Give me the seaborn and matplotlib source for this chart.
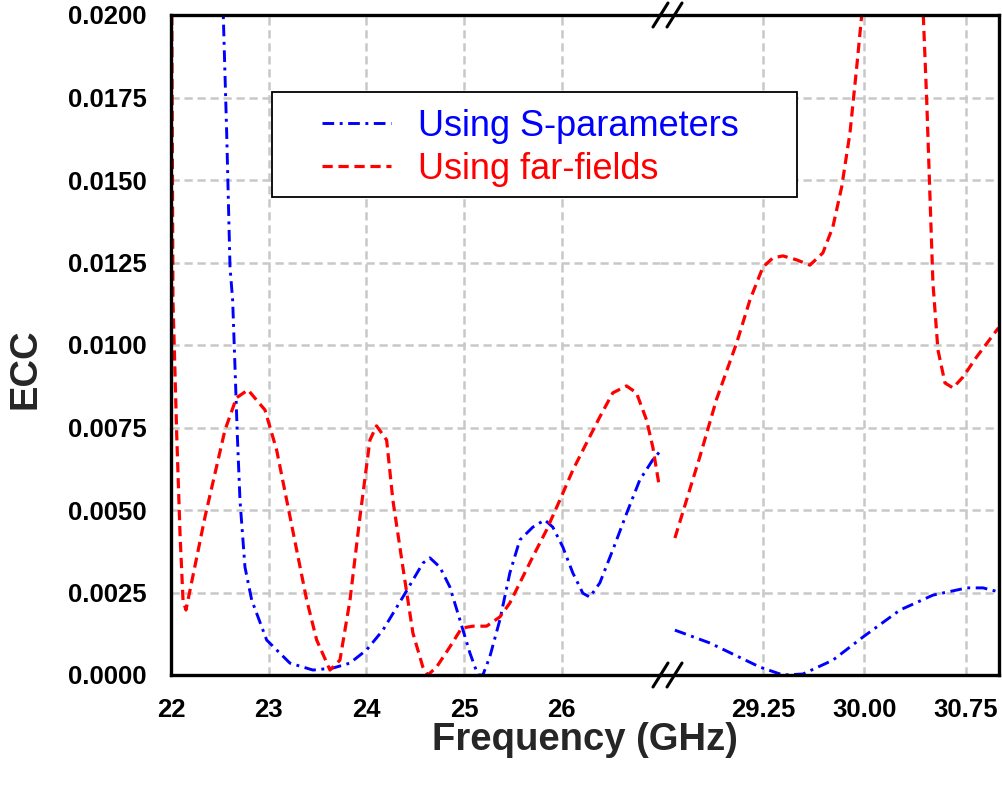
import numpy as np
import pandas as pd
import matplotlib
matplotlib.use("Agg")
import matplotlib.pyplot as plt
from matplotlib.lines import Line2D
from matplotlib.patches import Rectangle
import seaborn as sns

sns.set_style("white")
plt.rcParams['font.family'] = ['Liberation Sans', 'DejaVu Sans']

# ---------------- data ----------------
# Using S-parameters, lower band (GHz)
s_low_freq = [22.52, 22.535, 22.57, 22.604, 22.631, 22.655, 22.678, 22.706, 22.757, 22.826,
              22.979, 23.217, 23.453, 23.657, 23.831, 24.002, 24.169, 24.373, 24.578, 24.65,
              24.752, 24.854, 24.957, 25.059, 25.141, 25.192, 25.263, 25.366, 25.468, 25.57,
              25.703, 25.826, 25.908, 26.01, 26.113, 26.215, 26.286, 26.389, 26.522, 26.665,
              26.798, 26.931, 27.0]
s_low_ecc = [0.0215, 0.0200, 0.01642, 0.01236, 0.01136, 0.00933, 0.00733, 0.0053, 0.00327, 0.00227,
             0.00106, 0.00036, 0.00015, 0.00021, 0.00036, 0.00076, 0.00136, 0.00236, 0.00339, 0.00355,
             0.00327, 0.00267, 0.00167, 0.00067, 0.0, 0.0, 0.00055, 0.00167, 0.00309, 0.00409,
             0.00448, 0.0047, 0.00448, 0.00388, 0.00309, 0.00248, 0.00236, 0.00279, 0.00379, 0.00491,
             0.00591, 0.00652, 0.00676]

# Using far-fields, lower band
f_low_freq = [22.0, 22.02, 22.058, 22.092, 22.123, 22.153, 22.348, 22.552, 22.67, 22.788,
              22.962, 23.081, 23.184, 23.286, 23.389, 23.491, 23.627, 23.729, 23.832, 23.934,
              24.036, 24.104, 24.207, 24.271, 24.373, 24.476, 24.578, 24.629, 24.718, 24.854,
              24.974, 25.09, 25.23, 25.366, 25.468, 25.57, 25.703, 25.843, 25.98, 26.113,
              26.253, 26.389, 26.522, 26.662, 26.764, 26.867, 26.931, 26.992]
f_low_ecc = [0.026, 0.01136, 0.00733, 0.0043, 0.00227, 0.00197, 0.00479, 0.00742, 0.0084, 0.00864,
             0.00803, 0.00682, 0.0053, 0.00379, 0.00227, 0.00106, 0.00015, 0.00045, 0.00227, 0.00479,
             0.00712, 0.00755, 0.00712, 0.0053, 0.00327, 0.00127, 0.00024, 0.0, 0.00024, 0.00085,
             0.00142, 0.00148, 0.00148, 0.00176, 0.00218, 0.00279, 0.00358, 0.00439, 0.0053, 0.00621,
             0.00703, 0.00782, 0.00855, 0.00876, 0.00855, 0.00773, 0.00691, 0.00582]

# Using S-parameters, upper band
s_high_freq = [28.60, 28.858, 29.228, 29.398, 29.546, 29.767, 29.989, 30.263, 30.506, 30.756, 30.876, 30.99]
s_high_ecc = [0.00136, 0.00097, 0.00024, 0.0, 0.00003, 0.00045, 0.00115, 0.00197, 0.00242, 0.00264, 0.00264, 0.00252]

# Using far-fields, upper band
f_high_freq = [28.60, 28.686, 28.784, 28.908, 29.056, 29.154, 29.25, 29.324, 29.398, 29.499,
               29.597, 29.693, 29.767, 29.832, 29.893, 29.943, 29.98, 30.05, 30.2, 30.35,
               30.42, 30.46, 30.485, 30.506, 30.543, 30.595, 30.654, 30.728, 30.829, 30.99]
f_high_ecc = [0.00415, 0.0053, 0.00661, 0.00836, 0.01006, 0.01136, 0.01236, 0.01264, 0.0127, 0.01258,
              0.01242, 0.01279, 0.01358, 0.01479, 0.01642, 0.01842, 0.0200, 0.024, 0.028, 0.026,
              0.0215, 0.01742, 0.01439, 0.01188, 0.00985, 0.00885, 0.0087, 0.00903, 0.00964, 0.01052]

y_ticks = [0.0, 0.0025, 0.005, 0.0075, 0.01, 0.0125, 0.015, 0.0175, 0.02]
y_tick_labels = ["0.0000", "0.0025", "0.0050", "0.0075", "0.0100", "0.0125", "0.0150", "0.0175", "0.0200"]
x_low_ticks = [22, 23, 24, 25, 26]
x_low_labels = ["22", "23", "24", "25", "26"]
x_high_ticks = [29.25, 30.00, 30.75]
x_high_labels = ["29.25", "30.00", "30.75"]
series_labels = ["Using S-parameters", "Using far-fields"]

# ---------------- figure ----------------
W, H = 1002, 790
fig = plt.figure(figsize=(W / 100, H / 100), dpi=100)
axL = fig.add_axes([171 / W, 115 / H, 489 / W, 660 / H])
axR = fig.add_axes([660 / W, 115 / H, 339 / W, 660 / H])

BLUE, RED = "#0000ff", "#ff0000"
BLUE_LW, RED_LW = 2.1, 2.3
blue_dash = (4.0, 1.9, 1.0, 1.9)
red_dash = (3.2, 1.8)

def draw(ax, fx, fy, sx, sy):
    sns.lineplot(x=sx, y=sy, ax=ax, color=BLUE, estimator=None, sort=False, lw=BLUE_LW)
    ax.lines[-1].set_dashes(blue_dash)
    sns.lineplot(x=fx, y=fy, ax=ax, color=RED, estimator=None, sort=False, lw=RED_LW)
    ax.lines[-1].set_dashes(red_dash)

draw(axL, f_low_freq, f_low_ecc, s_low_freq, s_low_ecc)
draw(axR, f_high_freq, f_high_ecc, s_high_freq, s_high_ecc)

axL.set_xlim(22, 27.005)
axR.set_xlim(28.49, 30.994)
for ax in (axL, axR):
    ax.set_ylim(0, 0.02)
    ax.set_yticks(y_ticks)
    ax.set_axisbelow(True)
    ax.grid(True, color="#c8c8c8", lw=1.8, dashes=(3.3, 1.9))
    ax.set_xlabel("")
    ax.set_ylabel("")
    for s in ax.spines.values():
        s.set_linewidth(2.4)
        s.set_color("black")
    ax.tick_params(axis="both", which="both", direction="out", length=10.5, width=2.2,
                   colors="black", labelsize=18.5, top=False, right=False)

axL.set_xticks(x_low_ticks)
axL.set_xticklabels(x_low_labels, fontweight="bold")
axL.set_yticklabels(y_tick_labels, fontweight="bold")
axL.tick_params(axis="y", pad=7)
axL.tick_params(axis="x", pad=6)
axL.spines["right"].set_visible(False)

axR.set_xticks(x_high_ticks)
axR.set_xticklabels(x_high_labels, fontweight="bold")
axR.tick_params(axis="x", pad=6)
axR.tick_params(axis="y", left=False, labelleft=False)
axR.spines["left"].set_visible(False)

# axis titles
fig.text(585 / W, 1 - 740 / H, "Frequency (GHz)", ha="center", va="center",
         fontsize=27.5, fontweight="bold")
fig.text(26 / W, 1 - 369 / H, "ECC", ha="center", va="center", rotation=90,
         fontsize=27.5, fontweight="bold")

# axis break marks
for yc in (15, 675):
    for x0 in (653, 667):
        fig.add_artist(Line2D([x0 / W, (x0 + 15) / W], [1 - (yc + 12) / H, 1 - (yc - 12) / H],
                              transform=fig.transFigure, color="black", lw=2.2))

# legend box and entries
fig.add_artist(Rectangle((272 / W, 1 - 197 / H), 525 / W, 105 / H, transform=fig.transFigure,
                         facecolor="white", edgecolor="black", lw=1.3, zorder=4))
handles = [Line2D([], [], color=BLUE, lw=BLUE_LW, dashes=blue_dash),
           Line2D([], [], color=RED, lw=RED_LW, dashes=red_dash)]
leg = fig.legend(handles, series_labels, loc="upper left",
                 bbox_to_anchor=(322 / W, 1 - 108.5 / H), bbox_transform=fig.transFigure,
                 frameon=False, fontsize=26, handlelength=1.9, handletextpad=0.75,
                 borderpad=0, borderaxespad=0, labelspacing=0.235,
                 labelcolor=[BLUE, RED])
leg.set_zorder(5)

fig.savefig("out.png", dpi=100)
